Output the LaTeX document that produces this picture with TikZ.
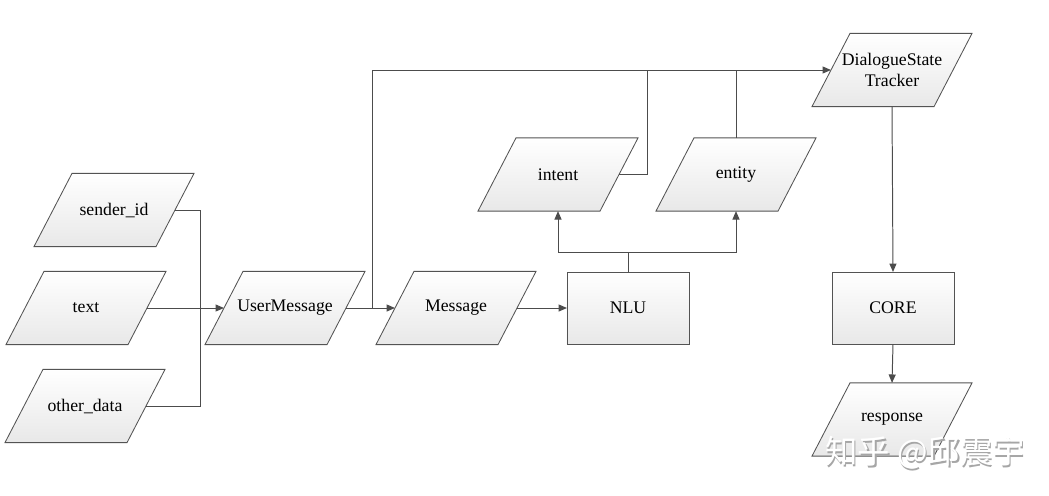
\documentclass[tikz,border=0pt]{standalone}
\usepackage{fontspec}
\setmainfont{Liberation Serif}
\newfontfamily\cjkfont{Noto Sans CJK SC}
\usetikzlibrary{arrows.meta,backgrounds}

\begin{document}
\begin{tikzpicture}[x=0.025cm,y=-0.025cm,
    data/.style={rectangle, minimum width=3.05cm, minimum height=1.83cm,
      inner sep=0pt, outer sep=0pt, align=center,
      font=\fontsize{12.6}{15}\selectfont},
    databox/.style={draw=gray!65!black, line width=0.6pt, top color=white, bottom color=gray!18},
    proc/.style={rectangle, minimum width=3.05cm, minimum height=1.8cm,
      inner sep=0pt, outer sep=0pt, databox, font=\fontsize{12.6}{15}\selectfont},
    link/.style={draw=gray!60!black, line width=0.7pt},
    arr/.style={link, -{Triangle[length=6pt,width=5pt]}}]
  \useasboundingbox (0,0) rectangle (1049,495);

  % inputs
  \node[data] (sender) at (114,210) {sender\_id};
  \node[data] (text) at (86,308) {text};
  \node[data] (other) at (85,406) {other\_data};

  \node[data] (umsg) at (285,308) {UserMessage};
  \node[data] (msg) at (456,308) {Message};
  \node[proc] (nlu) at (628,308) {NLU};
  \node[data] (intent) at (558,174.5) {intent};
  \node[data] (entity) at (736,174.5) {entity};

  \node[data] (dst) at (892,70) {DialogueState\\Tracker};
  \node[proc] (core) at (893,308) {CORE};
  \node[data] (resp) at (892,419.5) {response};

  % slanted outlines behind the data nodes
  \begin{pgfonlayer}{background}
    \foreach \n in {sender,text,other,umsg,msg,intent,entity,dst,resp}
      \shade[databox] ([xshift=0.475cm]\n.north west) -- ([xshift=0.475cm]\n.north east)
        -- ([xshift=-0.475cm]\n.south east) -- ([xshift=-0.475cm]\n.south west) -- cycle;
  \end{pgfonlayer}

  % connectors
  \coordinate (join) at (200,308);
  \draw[link] (sender.east) -| (join);
  \draw[link] (other.east) -| (join);
  \draw[arr] (text.east) -- (umsg.west);
  \draw[arr] (umsg.east) -- (msg.west);

  \coordinate (fork) at (372,308);
  \draw[arr] (fork) |- (dst.west);
  \coordinate (ibus) at (647,70);
  \draw[link] (intent.east) -| (ibus);
  \draw[link] (entity.north) -- (entity.north |- dst.west);

  \draw[arr] (msg.east) -- (nlu.west);
  \coordinate (split) at (628,252);
  \draw[link] (nlu.north) -- (split);
  \draw[arr] (split) -| (intent.south);
  \draw[arr] (split) -| (entity.south);

  \draw[arr] (dst.south) -- (core.north);
  \draw[arr] (core.south) -- (resp.north);

  % watermark
  \node[font=\cjkfont\fontsize{23}{23}\selectfont, text=gray!70] (markshadow) at (926.5,454.5) {知乎 @邱震宇};
  \node[font=\cjkfont\fontsize{23}{23}\selectfont, text=white] (mark) at (925,453) {知乎 @邱震宇};
\end{tikzpicture}
\end{document}
